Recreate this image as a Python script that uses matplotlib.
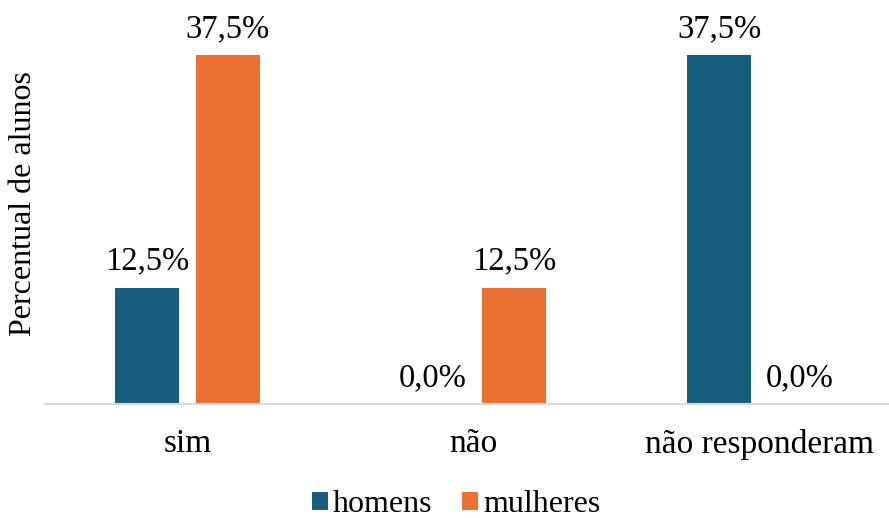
import numpy as np
import matplotlib.pyplot as plt

categories = ['sim', 'não', 'não responderam']
homens = [12.5, 0.0, 37.5]
mulheres = [37.5, 12.5, 0.0]
series_names = ['homens', 'mulheres']
colors = ['#175E7E', '#E97132']

plt.rcParams['font.family'] = ['Liberation Serif', 'DejaVu Serif']

fig = plt.figure(figsize=(8.89, 5.18), dpi=100)
ax = fig.add_axes([44.5 / 889, 114 / 518, 858 / 889, 384 / 518])

x = np.arange(len(categories))
w = 0.224
off = 0.1416
b1 = ax.bar(x - off, homens, w, color=colors[0], label=series_names[0])
b2 = ax.bar(x + off, mulheres, w, color=colors[1], label=series_names[1])

for bars in (b1, b2):
    for rect in bars:
        h = rect.get_height()
        ax.text(rect.get_x() + rect.get_width() / 2, h + 1.2,
                f'{h:.1f}%'.replace('.', ','), ha='center', va='bottom', fontsize=23.5)

ax.set_xlim(-0.5, 2.5)
ax.set_ylim(0, 41.3)
ax.set_xticks(x)
ax.set_xticklabels(categories, fontsize=24)
ax.tick_params(axis='x', length=0, pad=18)
ax.set_yticks([])
ax.set_ylabel('Percentual de alunos', fontsize=23)
ax.yaxis.set_label_coords(-0.008, 0.523)
for s in ['top', 'right', 'left']:
    ax.spines[s].set_visible(False)
ax.spines['bottom'].set_color('#D9D9D9')
ax.spines['bottom'].set_linewidth(1.5)

fig.legend(loc='lower center', bbox_to_anchor=(0.513, -0.058), ncol=2, frameon=False,
           fontsize=23, handlelength=0.5, handleheight=0.5, handletextpad=0.15,
           columnspacing=0.95)

plt.savefig('out.png', dpi=100)
